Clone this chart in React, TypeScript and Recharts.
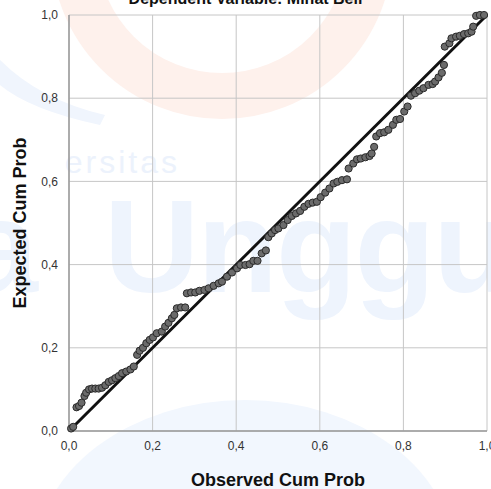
import React from 'react';
import { ScatterChart, Scatter, XAxis, YAxis, CartesianGrid, ReferenceLine, Label } from 'recharts';

// observed cum prob (x) and expected cum prob (y)
const observed = [
  0.005, 0.01, 0.018, 0.024, 0.03, 0.037, 0.041, 0.048, 0.055, 0.063, 0.071, 0.079,
  0.087, 0.095, 0.103, 0.111, 0.119, 0.127, 0.137, 0.147, 0.155,
  0.163, 0.169, 0.177, 0.185, 0.193, 0.201, 0.21, 0.222, 0.23, 0.238, 0.246, 0.252,
  0.258, 0.268, 0.278, 0.282, 0.292, 0.302, 0.312, 0.324, 0.334,
  0.346, 0.358, 0.366, 0.378, 0.39, 0.402, 0.41, 0.422, 0.432, 0.441, 0.451, 0.461, 0.471,
  0.477, 0.485, 0.493, 0.501, 0.513, 0.523, 0.533, 0.543, 0.553,
  0.563, 0.573, 0.583, 0.593, 0.602, 0.613, 0.623, 0.633, 0.642, 0.653, 0.665,
  0.669, 0.68, 0.689, 0.698, 0.709, 0.719, 0.724, 0.73,
  0.735, 0.744, 0.754, 0.764, 0.775, 0.783, 0.792,
  0.802, 0.81, 0.818, 0.828, 0.838, 0.848, 0.86, 0.87, 0.876, 0.884, 0.892, 0.897,
  0.899, 0.91, 0.915, 0.926, 0.935, 0.945, 0.955, 0.963, 0.967, 0.974, 0.983, 0.993,
];
const expected = [
  0.006, 0.01, 0.057, 0.06, 0.068, 0.084, 0.092, 0.1, 0.102, 0.102, 0.102, 0.104,
  0.11, 0.118, 0.122, 0.127, 0.132, 0.139, 0.143, 0.148, 0.155,
  0.183, 0.193, 0.2, 0.211, 0.219, 0.225, 0.235, 0.239, 0.251, 0.26, 0.271, 0.279,
  0.295, 0.297, 0.297, 0.331, 0.333, 0.333, 0.337, 0.339, 0.343,
  0.349, 0.355, 0.359, 0.371, 0.381, 0.391, 0.399, 0.399, 0.401, 0.409, 0.409, 0.427, 0.434,
  0.466, 0.475, 0.483, 0.487, 0.495, 0.507, 0.517, 0.523, 0.529,
  0.539, 0.546, 0.549, 0.551, 0.562, 0.573, 0.583, 0.595, 0.599, 0.603, 0.605,
  0.631, 0.643, 0.653, 0.655, 0.658, 0.661, 0.667, 0.683,
  0.708, 0.716, 0.718, 0.724, 0.736, 0.748, 0.75,
  0.768, 0.78, 0.806, 0.812, 0.818, 0.824, 0.832, 0.834, 0.84, 0.85, 0.861, 0.88,
  0.924, 0.932, 0.944, 0.948, 0.95, 0.954, 0.956, 0.96, 0.972, 0.998, 1.0, 1.0,
];
const ticks = [0, 0.2, 0.4, 0.6, 0.8, 1];

const points = observed.map((x, i) => ({ x, y: expected[i] }));
const fmt = (v: number) => v.toFixed(1).replace('.', ',');
const font = '"Liberation Sans", Arial, sans-serif';

// faint university logo behind the plot
function Watermark() {
  return (
    <svg width={491} height={489} style={{ position: 'absolute', left: 0, top: 0 }}>
      <circle cx={222} cy={-52} r={148} fill="none" stroke="#fef1ec" strokeWidth={46} />
      <path d="M0,60 Q40,100 105,115 L100,125 Q30,110 0,85 Z" fill="#f0f5fd" />
      <ellipse cx={245} cy={560} rx={210} ry={160} fill="#f2f7fe" />
      <text x={180} y={173} textAnchor="end" fontFamily={font} fontSize={32} fill="#ecf2fc" letterSpacing={3}>ersitas</text>
      <text x={104} y={292} fontFamily={font} fontWeight="bold" fontSize={132} fill="#eef4fd" letterSpacing={-2}>Unggul</text>
      <text x={38} y={292} textAnchor="end" fontFamily={font} fontWeight="bold" fontSize={132} fill="#eef4fd">sa</text>
    </svg>
  );
}

export default function App() {
  return (
    <div style={{ position: 'absolute', left: 0, top: 0, width: 491, height: 489, overflow: 'hidden', background: '#fff' }}>
      <Watermark />
      <div style={{ position: 'absolute', left: 0, top: 0 }}>
        <ScatterChart width={491} height={489} margin={{ top: 15, right: 4, left: 0, bottom: 0 }}>
          <CartesianGrid stroke="#c6c6c6" strokeWidth={1} />
          <XAxis
            type="number"
            dataKey="x"
            domain={[0, 1]}
            ticks={ticks}
            tickFormatter={fmt}
            tickLine={false}
            axisLine={{ stroke: '#9a9a9a', strokeWidth: 1.5 }}
            tick={{ fill: '#333', fontSize: 12, fontFamily: font }}
            tickMargin={4}
            height={58}
            interval={0}
          >
            <Label value="Observed Cum Prob" position="insideBottom" offset={3} fill="#111" fontSize={18} fontWeight="bold" fontFamily={font} />
          </XAxis>
          <YAxis
            type="number"
            dataKey="y"
            domain={[0, 1]}
            ticks={ticks}
            tickFormatter={fmt}
            tickLine={false}
            axisLine={{ stroke: '#9a9a9a', strokeWidth: 1.5 }}
            tick={{ fill: '#333', fontSize: 12, fontFamily: font }}
            tickMargin={5}
            width={69}
            interval={0}
          >
            <Label value="Expected Cum Prob" angle={-90} position="insideLeft" offset={20} fill="#111" fontSize={18} fontWeight="bold" fontFamily={font} style={{ textAnchor: 'middle' }} />
          </YAxis>
          <Scatter data={points} fill="#6b6b6b" stroke="#2e2e2e" strokeWidth={1} isAnimationActive={false}
            shape={(p: any) => <circle cx={p.cx} cy={p.cy} r={3.6} fill="#6b6b6b" stroke="#2a2a2a" strokeWidth={1} />} />
          <ReferenceLine segment={[{ x: 0, y: 0 }, { x: 1, y: 1 }]} stroke="#111" strokeWidth={3} ifOverflow="visible" />
        </ScatterChart>
      </div>
      <div style={{ position: 'absolute', left: 0, width: 491, top: -10, textAlign: 'center', fontFamily: font, fontWeight: 'bold', fontSize: 16, color: '#111' }}>
        Dependent Variable: Minat Beli
      </div>
    </div>
  );
}
